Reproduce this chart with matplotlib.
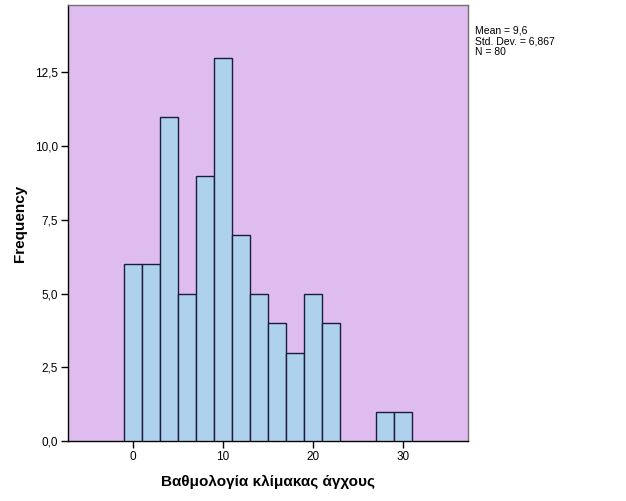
import numpy as np
import matplotlib
matplotlib.use("Agg")
import matplotlib.pyplot as plt

bin_start = -1
bin_width = 2
counts = [6, 6, 11, 5, 9, 13, 7, 5, 4, 3, 5, 4, 0, 0, 1, 1]
xticks = [0, 10, 20, 30]
yticks = [0.0, 2.5, 5.0, 7.5, 10.0, 12.5]
stats_text = "Mean = 9,6\nStd. Dev. = 6,867\nN = 80"
xlabel = "Βαθμολογία κλίμακας άγχους"
ylabel = "Frequency"

plt.rcParams['font.family'] = ['Liberation Sans', 'DejaVu Sans']

fig = plt.figure(figsize=(6.26, 5.01), dpi=100)
ax = fig.add_axes([68/626, 60/501, 400/626, 436/501])
ax.set_facecolor('#DFBCF0')

edges = bin_start + bin_width * np.arange(len(counts) + 1)
for left, c in zip(edges[:-1], counts):
    if c > 0:
        ax.bar(left, c, width=bin_width, align='edge', color='#AED1EE',
               edgecolor='#1C1C3A', linewidth=1.0, zorder=3)

ax.set_xlim(-7.2, 37.2)
ax.set_ylim(0, 14.78)
ax.set_xticks(xticks)
ax.set_xticklabels([str(t) for t in xticks])
ax.set_yticks(yticks)
ax.set_yticklabels([f"{t:.1f}".replace('.', ',') for t in yticks])
ax.tick_params(direction='out', length=5, width=1, labelsize=8.5, colors='black', pad=2)

for s in ['left', 'bottom']:
    ax.spines[s].set_color('black')
    ax.spines[s].set_linewidth(1)
for s in ['top', 'right']:
    ax.spines[s].set_color('#707070')
    ax.spines[s].set_linewidth(1)

ax.set_xlabel(xlabel, fontsize=11, fontweight='bold', labelpad=9)
ax.set_ylabel(ylabel, fontsize=11, fontweight='bold', labelpad=6)

fig.text(475/626, 1 - 25.5/501, stats_text, fontsize=7.5, va='top', ha='left',
         linespacing=1.08)

fig.savefig("out.png", dpi=100)
